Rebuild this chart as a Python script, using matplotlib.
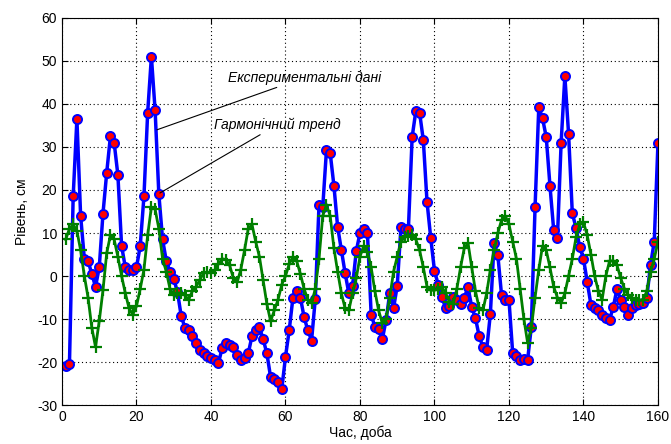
import numpy as np
import matplotlib
matplotlib.use("Agg")
import matplotlib.pyplot as plt

plt.rcParams['font.family'] = ['Liberation Sans Narrow', 'Liberation Sans', 'DejaVu Sans']
plt.rcParams['axes.unicode_minus'] = False

# days of observation
days = np.arange(1, 161)

# experimental data, cm
level = [-21, -20.5, 18.5, 36.5, 14, 4, 3.5, 0.5, -2.5, 2,
         14.5, 24, 32.5, 31, 23.5, 7, 2, 1.5, 1.5, 2,
         7, 18.5, 38, 51, 38.5, 19, 8.5, 3.5, 1, -0.7,
         -3.7, -9.3, -12, -12.5, -14, -15.6, -17.2, -18, -18.5, -19,
         -19.5, -20.3, -16.7, -15.6, -16, -16.5, -18.4, -19.5, -19, -18,
         -14, -12.6, -11.8, -14.7, -18, -23.5, -24, -24.6, -26.3, -18.8,
         -12.6, -5, -3.5, -5, -9.6, -12.6, -15, -5.3, 16.5, 16,
         29.3, 28.6, 21, 11.4, 6, 0.7, -4, -2.3, 5.8, 10,
         11, 10, -9, -11.8, -12.4, -14.7, -10.2, -4, -7.5, -2.3,
         11.4, 11, 11, 32.3, 38.4, 38, 31.6, 17.2, 8.8, 1.2,
         -2, -4.9, -7.5, -7, -4.9, -5.5, -6.5, -5, -2.6, -7.2,
         -9.8, -14, -16.5, -17.2, -8.8, 7.7, 4.9, -4.4, -5.6, -5.6,
         -18, -18.5, -19.5, -19.3, -19.5, -11.8, 16, 39.3, 36.7, 32.3,
         21, 10.7, 8.8, 31, 46.5, 33, 14.6, 11.2, 6.7, 4,
         -1.4, -6.7, -7.4, -8, -9, -9.8, -10.2, -7.2, -3, -5.6,
         -7.2, -9, -7.4, -6.7, -6.5, -6.3, -5, 2.6, 8, 31]

# harmonic trend, cm
trend = [8.5, 11, 12, 10.5, 6, 0, -5, -12, -16.5, -10.5,
         -3.3, 5.3, 9.5, 8.5, 4.5, 0, -4, -7.5, -9, -7,
         -3, 1.5, 9.5, 16, 15.5, 11, 4, 1, -3, -4.5,
         -4, -4, -4.5, -5.5, -3.5, -2.5, -0.9, 0.7, 0.9, 0.8,
         1.4, 2.8, 4, 3.8, 2.5, -0.5, -1.5, 1.5, 6, 11,
         12, 8, 4.5, -1, -6.5, -10.5, -8, -5.5, -2, 0,
         2.8, 4.5, 3.5, 0.5, -3, -5.5, -6.3, -3, 4, 14,
         16.5, 14, 6.5, 1, -4, -7.5, -8, -4, -0.5, 4.5,
         7, 5.5, 2, -3.5, -8, -11, -10, -5, 1, 4.5,
         8, 9, 9.3, 9.5, 8.5, 6, 2, -2.5, -3.3, -3.3,
         -3, -2.6, -4, -6, -6.5, -3, 2, 6.5, 7.7, 2,
         -3.5, -7.5, -8, -4, 1.5, 6, 10, 13, 14, 12,
         8, 4, -3, -10, -15.5, -12, -5, 1.5, 7, 6,
         2, -2.5, -5, -6.3, -4, 0, 4, 9, 12, 12.5,
         9.5, 5, 0, -3.5, -5.5, 0, 3.5, 3.5, 2.5, -0.5,
         -3, -4.5, -5, -5.5, -5.6, -5.6, -3.5, 1, 4, 8]

fig = plt.figure(figsize=(6.71, 4.44), dpi=100)
ax = fig.add_axes([0.0924, 0.0878, 0.8882, 0.8717])

ax.plot(days, level, '-o', color='blue', lw=2.5, markersize=6.5,
        markerfacecolor='red', markeredgecolor='blue', markeredgewidth=1.4)
ax.plot(days, trend, '-+', color='#007f00', lw=2, markersize=8, markeredgewidth=1.6)

ax.set_xlim(0, 160)
ax.set_ylim(-30, 60)
ax.set_xticks(np.arange(0, 161, 20))
ax.set_yticks(np.arange(-30, 61, 10))
ax.grid(True, linestyle=(0, (1, 2.5)), color='black', lw=0.8)
ax.tick_params(direction='in', top=True, right=True, labelsize=10, length=4)
for s in ax.spines.values():
    s.set_linewidth(0.8)

ax.set_xlabel('Час, доба', fontsize=10, labelpad=1)
ax.set_ylabel('Рівень, см', fontsize=10, labelpad=6)

ax.annotate('Експериментальні дані', xy=(25.5, 34), xytext=(44.5, 44.5),
            fontsize=10, style='italic', va='bottom',
            arrowprops=dict(arrowstyle='-', color='black', lw=0.8, shrinkA=0, shrinkB=0))
ax.annotate('Гармонічний тренд', xy=(26.3, 19.3), xytext=(40.8, 33.5),
            fontsize=10, style='italic', va='bottom',
            arrowprops=dict(arrowstyle='-', color='black', lw=0.8, shrinkA=0, shrinkB=0))

fig.savefig('out.png', dpi=100)
